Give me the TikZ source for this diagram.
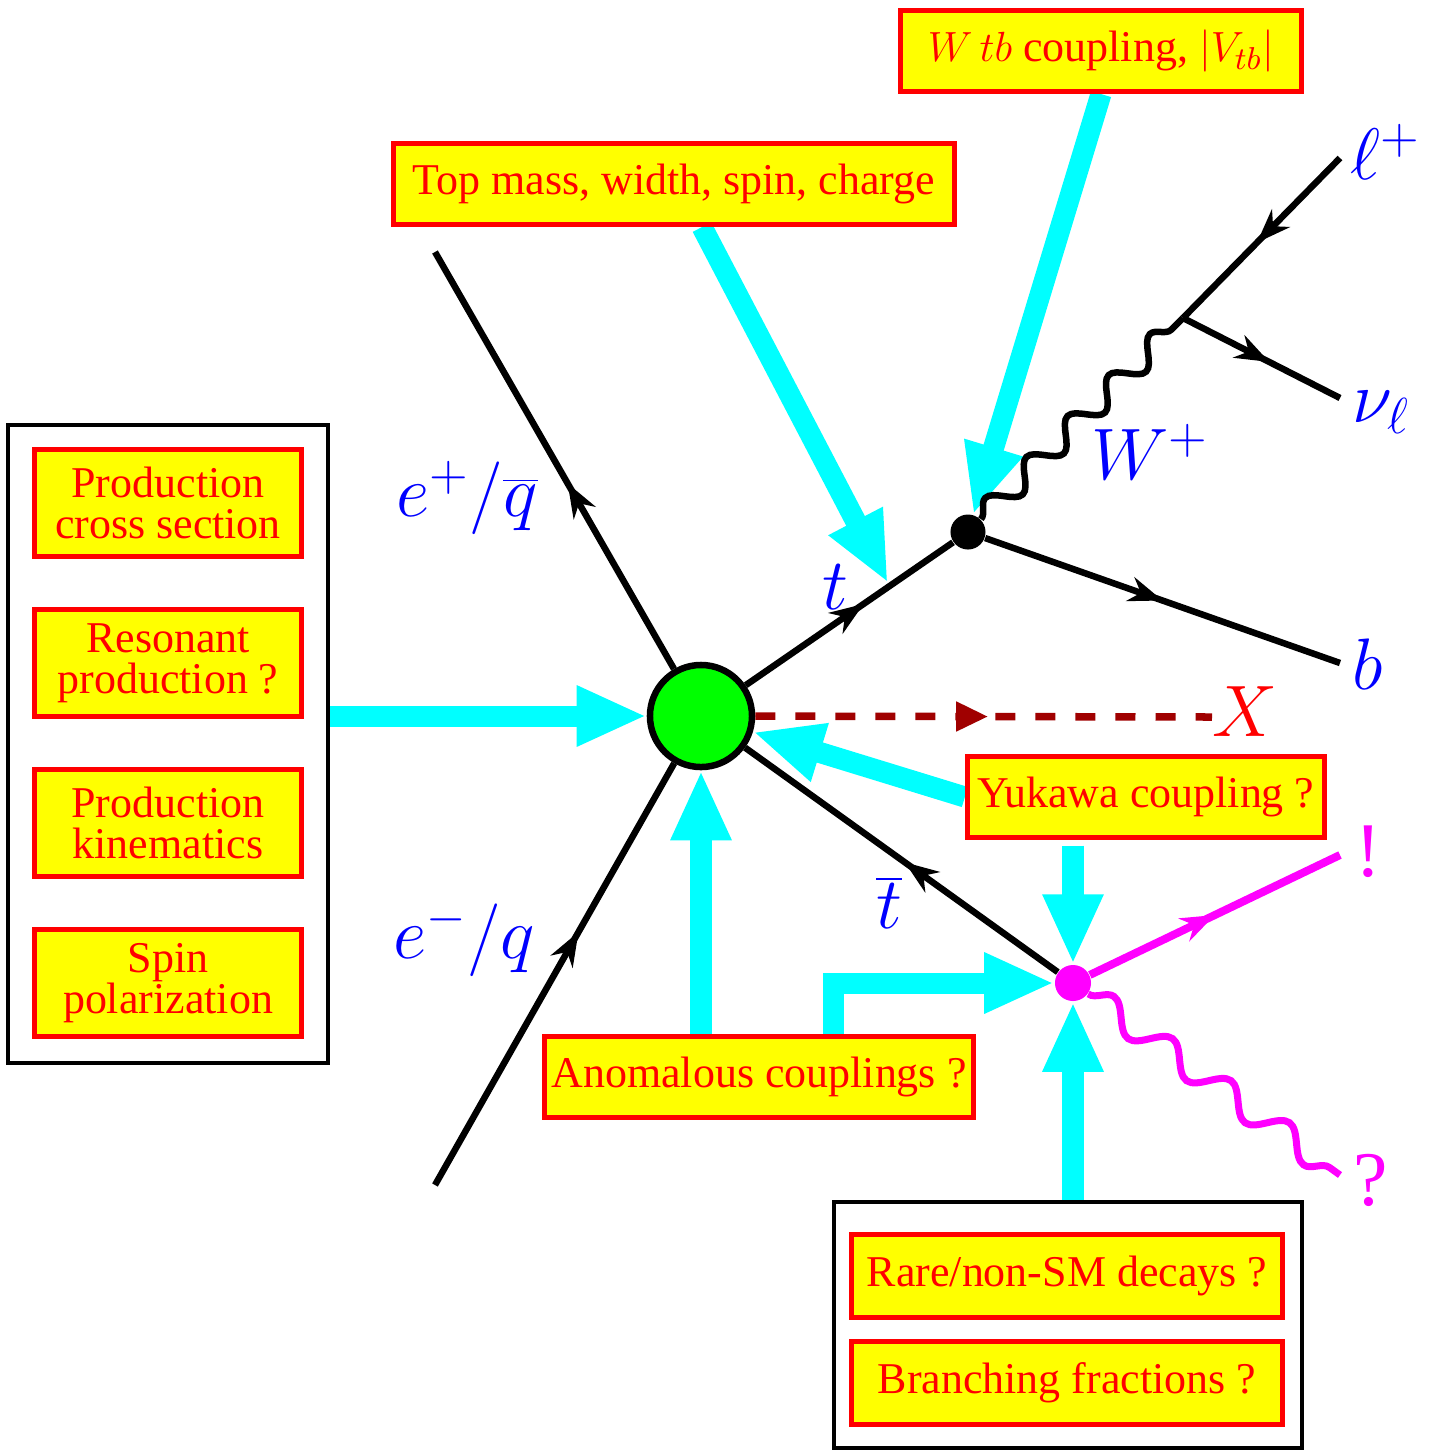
\documentclass[tikz,border=0pt]{standalone}
\usepackage{fontspec}
\setmainfont{Liberation Serif}
\usepackage{tikz}
\usetikzlibrary{arrows.meta, positioning, decorations.markings, decorations.pathmorphing, backgrounds}
\definecolor{boxfill}{RGB}{255, 255, 0}
\definecolor{boxline}{RGB}{255, 0, 0}
\definecolor{probecol}{RGB}{0, 255, 255}
\definecolor{particle}{RGB}{0, 0, 255}
\definecolor{exotic}{RGB}{255, 0, 255}
\definecolor{blobcol}{RGB}{0, 255, 0}
\definecolor{scalar}{RGB}{160, 0, 0}

\begin{document}
\begin{tikzpicture}[
    x=0.01cm, y=-0.01cm,
    meas/.style={rectangle, draw=boxline, fill=boxfill, line width=0.05cm, text=boxline, align=center, inner sep=0pt, minimum height=0.81cm, font=\fontsize{12.5}{11.6}\selectfont},
    groupbox/.style={rectangle, draw=black, line width=0.045cm, inner sep=0pt},
    fermion/.style={line width=0.065cm, decoration={markings, mark=at position #1 with {\arrow{Stealth[length=0.34cm, width=0.25cm]}}}, postaction={decorate}},
    fermion/.default=0.5,
    wboson/.style={line width=0.065cm, decorate, decoration={snake, segment length=0.58cm, amplitude=0.12cm}},
    xboson/.style={line width=0.07cm, draw=exotic, decorate, decoration={snake, segment length=0.72cm, amplitude=0.13cm}},
    xline/.style={draw=scalar, line width=0.075cm, dash pattern=on 0.2cm off 0.2cm, decoration={markings, mark=at position 0.51 with {\arrow{Triangle[length=0.32cm, width=0.28cm]}}}, postaction={decorate}},
    probearr/.style={-{Triangle[length=0.7cm, width=0.56cm]}, draw=probecol, line width=0.21cm},
    plabel/.style={text=particle, font=\fontsize{20}{24}\selectfont},
    elabel/.style={text=exotic, font=\fontsize{22}{24}\selectfont}
  ]
  \useasboundingbox (0,0) rectangle (1432,1450);

  % Vertices
  \node[circle, draw=black, fill=blobcol, line width=0.065cm, minimum size=1.02cm, inner sep=0pt] (prod) at (701,716) {};
  \node[circle, fill=black, minimum size=0.35cm, inner sep=0pt] (tvert) at (968,532) {};
  \node[circle, fill=exotic, minimum size=0.36cm, inner sep=0pt] (mdot) at (1073,983) {};
  \coordinate (wvert) at (1183,318);

  % Free ends
  \coordinate (ebarend) at (435,252);
  \coordinate (eend) at (435,1185);
  \coordinate (lend) at (1340,158);
  \coordinate (nuend) at (1340,398);
  \coordinate (bqend) at (1340,663);
  \coordinate (xend) at (1212,717);
  \coordinate (bangend) at (1340,855);
  \coordinate (qend) at (1340,1175);
  \coordinate (ttip) at (888,583);

  % Measurement boxes
  \foreach \i/\y/\txt in {1/503/{Production\\cross section}, 2/663/{Resonant\\production ?}, 3/823/{Production\\kinematics}, 4/983/{Spin\\polarization}} {
    \node[meas, minimum width=2.67cm, minimum height=1.07cm] (prop\i) at (168,\y) {\txt};
  }
  \node[groupbox, minimum width=3.2cm, minimum height=6.38cm] (prodgroup) at (168,744) {};
  \node[meas, minimum width=5.61cm] (topbox) at (674,184) {Top mass, width, spin, charge};
  \node[meas, minimum width=4.01cm] (wtbbox) at (1101,51) {$W\,tb$ coupling, $|V_{tb}|$};
  \node[meas, minimum width=3.57cm, minimum height=0.8cm] (yukbox) at (1146,797) {Yukawa coupling ?};
  \node[meas, minimum width=4.28cm, minimum height=0.8cm] (anombox) at (759,1077) {Anomalous couplings ?};
  \node[groupbox, minimum width=4.68cm, minimum height=2.46cm] (decgroup) at (1068,1325) {};
  \node[meas, minimum width=4.3cm, minimum height=0.83cm] (raredec) at (1067,1276) {Rare/non-SM decays ?};
  \node[meas, minimum width=4.3cm, minimum height=0.83cm] (branch) at (1067,1383) {Branching fractions ?};

  % Particle lines
  \draw[fermion=0.445] (prod) -- (ebarend);
  \draw[fermion=0.6] (eend) -- (prod);
  \draw[fermion=0.57] (prod) -- (tvert);
  \draw[fermion=0.5] (tvert) -- (bqend);
  \draw[wboson] (tvert) -- (wvert);
  \draw[fermion=0.53] (lend) -- (wvert);
  \draw[fermion=0.55] (wvert) -- (nuend);
  \draw[fermion=0.49] (mdot) -- (prod);
  \draw[xline] (prod) -- (xend);
  \draw[fermion=0.5, draw=exotic, line width=0.08cm] (mdot) -- (bangend);
  \draw[xboson] (mdot) -- (qend);

  % Probes
  \begin{scope}[on background layer]
    \draw[probearr] (prodgroup.east |- prod) -- (prod);
    \draw[probearr] ([xshift=0.28cm]topbox.south) -- (ttip);
    \draw[probearr] (wtbbox.south) -- (tvert);
    \draw[probearr] (yukbox.west) -- (prod);
    \draw[probearr] (prod |- anombox.north) -- (prod);
    \draw[probearr] ([xshift=0.74cm]anombox.north) |- (mdot);
    \draw[probearr, shorten <=0.06cm] (mdot |- yukbox.south) -- (mdot);
    \draw[probearr] (mdot |- decgroup.north) -- (mdot);
  \end{scope}

  % Labels
  \node[plabel] (ebarlbl) at (467,498) {$e^+/\overline{q}$};
  \node[plabel] (elbl) at (464,940) {$e^-/q$};
  \node[plabel] (tlbl) at (835,587) {$t$};
  \node[plabel] (wlbl) at (1150,452) {$W^+$};
  \node[plabel] (llbl) at (1386,152) {$\ell^+$};
  \node[plabel] (nulbl) at (1381,412) {$\nu_{\ell}$};
  \node[plabel] (blbl) at (1368,664) {$b$};
  \node[plabel] (tbarlbl) at (889,903) {$\overline{t}$};
  \node[plabel, text=boxline] (xlbl) at (1245,712) {$X$};
  \node[elabel] (banglbl) at (1368,852) {!};
  \node[elabel] (qlbl) at (1371,1180) {?};

\end{tikzpicture}
\end{document}
